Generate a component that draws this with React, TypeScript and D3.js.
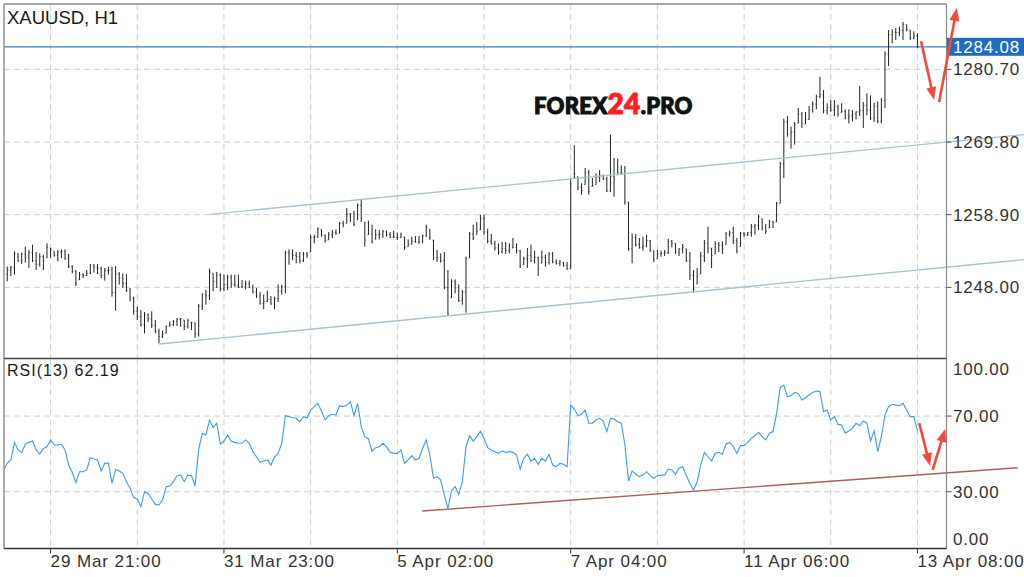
import React from 'react';
import * as d3 from 'd3';

const highs = [
  1251.1,1251.2,1253.4,1253.1,1253.2,1254.1,1253.6,1254.4,1253.3,1253.1,
  1252.9,1254.6,1253.9,1253.4,1253.6,1253.7,1253.7,1253.0,1251.3,1250.6,
  1250.3,1250.1,1250.6,1251.5,1251.5,1251.5,1251.1,1250.9,1251.1,1251.1,
  1251.2,1250.3,1250.1,1250.0,1247.9,1246.6,1245.1,1244.6,1244.3,1244.1,
  1244.4,1243.1,1241.8,1241.5,1242.3,1242.9,1243.1,1243.4,1243.4,1243.1,
  1243.3,1242.8,1242.7,1245.5,1247.1,1247.6,1250.8,1250.1,1250.3,1250.1,
  1249.9,1249.9,1249.9,1249.9,1249.9,1249.1,1249.0,1249.0,1248.4,1247.9,
  1247.3,1246.9,1247.5,1246.7,1246.6,1248.4,1248.4,1253.5,1253.7,1253.7,
  1253.3,1253.3,1253.3,1253.3,1255.9,1255.9,1257.0,1256.7,1255.9,1256.3,
  1256.6,1256.7,1257.8,1258.0,1259.9,1259.1,1259.5,1260.6,1261.1,1257.8,
  1258.0,1257.4,1256.7,1256.6,1256.6,1256.5,1256.3,1256.5,1256.2,1256.2,
  1255.6,1255.2,1255.6,1255.7,1255.7,1255.9,1257.4,1256.7,1255.1,1253.6,
  1253.1,1253.3,1250.6,1249.2,1249.2,1248.4,1247.6,1252.6,1256.3,1257.4,
  1257.8,1258.9,1258.9,1256.8,1256.0,1255.0,1254.6,1254.8,1254.8,1254.6,
  1255.4,1254.6,1253.6,1252.6,1253.9,1254.4,1253.5,1252.6,1253.5,1252.9,
  1253.3,1253.3,1252.2,1252.1,1251.8,1251.8,1264.4,1269.3,1264.6,1263.6,
  1265.9,1265.6,1264.4,1265.1,1265.6,1264.9,1264.6,1270.9,1267.4,1267.3,
  1266.3,1266.2,1260.8,1256.1,1256.0,1255.4,1255.6,1255.9,1255.1,1253.5,
  1253.6,1253.5,1253.6,1255.3,1255.1,1254.6,1253.9,1254.5,1253.8,1253.3,
  1250.6,1250.9,1253.3,1255.1,1257.1,1253.9,1254.9,1254.8,1254.9,1256.3,
  1256.5,1257.1,1255.4,1256.3,1256.3,1256.3,1257.5,1257.5,1258.9,1258.3,
  1257.5,1258.1,1257.9,1260.8,1266.8,1273.3,1273.7,1272.1,1272.8,1274.9,
  1274.3,1274.3,1275.2,1275.9,1276.9,1279.6,1277.6,1275.6,1276.1,1276.1,
  1275.4,1275.6,1274.7,1274.7,1274.6,1274.4,1278.2,1275.8,1277.1,1276.8,
  1275.7,1275.9,1276.4,1283.4,1286.6,1286.7,1286.9,1287.1,1287.8,1287.4,
  1286.6,1286.4,1286.1,
];

const lows = [
  1248.9,1249.7,1249.9,1251.8,1251.5,1251.7,1250.9,1251.8,1250.6,1251.1,
  1250.6,1252.4,1252.4,1252.6,1251.9,1252.4,1252.1,1250.9,1250.1,1248.2,
  1249.1,1249.4,1249.7,1250.0,1250.2,1250.0,1249.4,1249.0,1249.9,1246.6,
  1244.5,1248.4,1247.9,1247.3,1245.9,1243.9,1243.1,1242.1,1241.1,1242.8,
  1241.9,1241.1,1239.6,1240.4,1241.1,1242.1,1242.2,1242.2,1242.1,1241.6,
  1241.8,1241.6,1240.4,1240.6,1244.6,1245.4,1246.1,1247.4,1247.9,1247.4,
  1247.4,1247.6,1247.9,1248.1,1247.9,1247.9,1247.7,1247.9,1247.1,1246.4,
  1245.4,1244.7,1245.8,1245.4,1244.7,1245.8,1246.9,1247.1,1251.4,1252.1,
  1251.6,1251.6,1251.8,1252.4,1253.3,1254.6,1255.4,1255.6,1254.7,1255.1,
  1255.4,1255.9,1256.1,1257.0,1257.6,1257.8,1257.2,1258.1,1257.8,1254.1,
  1255.9,1254.6,1255.2,1255.2,1255.4,1255.6,1255.4,1255.4,1255.1,1255.4,
  1253.6,1254.1,1254.4,1254.7,1254.5,1254.6,1255.6,1255.1,1252.1,1251.8,
  1251.7,1247.7,1243.7,1246.4,1247.1,1245.8,1245.4,1244.2,1252.4,1255.1,
  1255.9,1256.6,1255.9,1254.6,1254.4,1253.5,1252.9,1253.1,1253.0,1253.1,
  1253.9,1253.1,1250.9,1251.4,1250.9,1251.8,1251.6,1249.7,1251.6,1251.1,
  1251.4,1251.6,1251.4,1251.2,1251.1,1250.6,1250.8,1264.4,1262.6,1261.9,
  1263.4,1261.9,1263.1,1263.4,1263.8,1264.1,1262.3,1262.3,1261.6,1264.9,
  1264.9,1260.4,1253.5,1251.6,1254.1,1253.8,1253.5,1254.0,1253.3,1251.8,
  1252.3,1252.6,1252.7,1253.0,1254.0,1253.0,1252.7,1253.1,1251.8,1249.1,
  1247.2,1248.5,1250.0,1251.8,1253.1,1250.9,1253.0,1253.3,1253.0,1254.4,
  1255.6,1254.5,1253.1,1254.1,1255.6,1255.7,1255.6,1255.9,1256.6,1256.5,
  1256.0,1256.9,1256.9,1257.8,1260.6,1264.4,1270.6,1268.8,1269.4,1272.6,
  1271.9,1272.5,1273.1,1274.2,1274.7,1276.4,1274.1,1273.9,1274.3,1273.7,
  1273.6,1274.2,1273.2,1272.6,1272.9,1273.2,1273.7,1271.9,1273.8,1273.1,
  1272.8,1272.6,1272.6,1274.9,1281.2,1284.6,1285.1,1285.7,1285.1,1286.4,
  1285.1,1285.2,1283.9,
];

const closes = [
  1250.5,1251.0,1253.0,1252.0,1253.0,1252.5,1253.2,1252.0,1251.4,1252.6,
  1252.0,1254.0,1253.6,1252.8,1253.3,1253.4,1252.4,1251.1,1250.4,1248.6,
  1249.9,1249.8,1250.1,1251.3,1251.0,1250.8,1249.8,1250.5,1250.6,1247.2,
  1250.0,1249.4,1248.6,1247.6,1246.3,1244.4,1243.6,1242.4,1243.9,1243.3,
  1242.3,1241.4,1240.6,1241.0,1242.1,1242.4,1242.9,1243.2,1243.3,1242.1,
  1243.0,1242.7,1241.0,1245.2,1246.9,1246.7,1250.3,1248.9,1249.8,1247.8,
  1248.4,1249.5,1248.5,1248.3,1248.0,1248.1,1248.5,1248.0,1247.3,1246.7,
  1245.6,1245.9,1246.2,1245.5,1246.3,1247.4,1248.1,1253.2,1253.0,1252.8,
  1252.6,1252.0,1253.0,1252.8,1255.5,1255.6,1256.8,1255.8,1255.0,1255.9,
  1256.2,1256.1,1257.6,1257.5,1259.0,1259.1,1257.4,1260.3,1258.3,1255.1,
  1256.0,1254.8,1255.9,1256.0,1256.4,1255.9,1255.6,1255.5,1255.5,1256.0,
  1254.0,1254.5,1254.9,1254.8,1254.9,1255.7,1257.0,1255.5,1252.4,1252.5,
  1252.0,1248.0,1244.0,1248.9,1248.5,1246.0,1247.3,1252.3,1256.0,1255.4,
  1256.4,1258.3,1256.3,1254.9,1254.6,1253.9,1253.3,1253.8,1253.5,1253.7,
  1254.0,1253.5,1251.2,1252.3,1252.8,1252.0,1252.5,1250.8,1252.5,1251.7,
  1253.0,1251.8,1251.6,1251.8,1251.3,1250.8,1263.5,1265.0,1263.0,1262.5,
  1265.2,1262.4,1263.3,1264.5,1264.8,1264.3,1262.5,1264.6,1264.3,1265.2,
  1265.1,1260.8,1253.8,1255.5,1254.4,1254.0,1254.2,1255.0,1253.6,1252.2,
  1253.0,1253.1,1253.2,1254.9,1254.6,1253.3,1253.7,1254.0,1252.0,1249.8,
  1247.7,1249.6,1252.7,1254.6,1253.9,1252.8,1254.5,1254.3,1253.8,1256.0,
  1256.2,1255.0,1253.5,1256.0,1255.9,1256.2,1257.1,1257.3,1258.6,1256.9,
  1256.4,1257.9,1257.7,1260.6,1266.5,1272.8,1271.0,1271.3,1272.4,1274.0,
  1272.5,1273.2,1274.6,1275.5,1276.6,1276.9,1274.5,1275.0,1274.6,1275.1,
  1274.0,1274.4,1273.4,1273.7,1274.0,1274.3,1274.5,1275.3,1274.6,1273.4,
  1275.2,1272.9,1276.0,1283.0,1285.9,1286.3,1286.2,1286.6,1287.4,1286.7,
  1285.4,1285.7,1284.08,
];
const firstOpen = 1250.0;

const rsiStart = -1;
const rsiValues = [
  41.5,
  45.0,46.8,56.1,52.1,50.8,55.1,56.1,56.8,52.1,49.9,
  52.9,53.8,57.4,54.7,54.7,55.1,52.1,44.1,40.2,34.8,
  40.6,40.6,41.5,48.0,47.3,46.8,41.0,45.0,45.2,34.4,
  41.8,41.0,39.7,35.3,31.8,26.9,26.2,22.1,30.0,29.1,
  26.2,23.3,23.0,25.6,32.7,33.0,35.3,38.5,38.8,35.3,
  38.8,38.5,33.0,52.4,60.9,60.0,67.9,63.9,66.2,55.1,
  56.8,60.0,56.8,56.1,55.6,55.6,57.4,55.6,51.2,48.5,
  45.5,46.2,46.8,44.1,48.5,50.3,55.6,70.2,69.7,69.1,
  68.8,67.0,69.7,69.1,73.2,75.0,76.7,72.7,67.9,70.2,
  70.9,70.6,75.5,75.0,75.8,77.6,70.2,76.7,64.4,59.1,
  57.9,51.2,53.3,53.8,55.6,53.8,50.8,50.3,50.3,52.1,
  45.0,46.8,49.1,46.8,47.7,52.9,57.4,49.4,37.1,38.0,
  36.2,28.3,21.2,30.4,32.7,28.6,35.3,53.8,59.6,56.8,
  59.1,62.1,58.2,53.3,52.1,51.2,50.3,51.6,50.8,51.2,
  50.8,49.4,42.0,47.7,49.8,46.2,47.7,44.5,47.7,46.2,
  49.8,44.1,43.3,45.0,44.5,43.3,75.8,73.7,70.2,70.9,
  73.2,66.2,66.2,67.9,68.8,67.4,61.8,68.8,68.4,67.0,
  66.2,54.7,35.7,41.0,39.2,38.0,38.8,40.6,38.5,37.1,
  38.5,38.8,38.8,42.0,41.5,39.2,42.4,43.3,38.5,34.4,
  30.9,35.3,44.1,50.8,48.5,46.2,50.3,50.8,49.8,55.1,
  56.1,53.8,50.3,54.4,54.4,56.1,58.2,59.6,61.4,59.1,
  57.4,60.9,61.8,71.4,85.0,86.4,80.2,80.8,82.5,82.0,
  78.5,79.7,81.1,82.5,83.2,82.9,72.3,73.2,67.9,69.7,
  65.6,65.3,60.9,62.1,63.5,66.2,64.9,67.4,66.2,56.8,
  62.1,51.2,59.1,70.6,75.0,76.2,75.8,75.5,76.7,73.2,
  69.7,69.7,62.19,
];

const priceTicks = [1248.0, 1258.9, 1269.8, 1280.7];
const rsiTicks = [100, 70, 30, 0];
const rsiGrid = [70, 30];
const timeTickIndex = [12, 60, 108, 156, 204, 252];
const timeTickLabels = ['29 Mar 21:00', '31 Mar 23:00', '5 Apr 02:00', '7 Apr 04:00', '11 Apr 06:00', '13 Apr 08:00'];
const gridIndex = [12, 36, 60, 84, 108, 132, 156, 180, 204, 228, 252];
const lastPrice = 1284.08;
const rsiLast = 62.19;
const symbolTitle = 'XAUUSD, H1';
const rsiTitle = 'RSI(13)';

const channelUpper = [[56.1, 1258.95], [281.5, 1270.92]];
const channelLower = [[42.0, 1239.5], [281.5, 1252.15]];
const rsiTrend = [[114.9, 19.8], [279.7, 42.7]];
const priceArrows = [
  [[253.0, 1284.9], [256.6, 1276.1]],
  [[258.0, 1275.8], [262.9, 1289.9]],
];
const rsiArrows = [
  [[252.5, 66.2], [255.5, 43.6]],
  [[256.2, 41.5], [259.7, 63.2]],
];

const W = 1024, H = 577;
const L = 4, R = 946.5;
const mainTop = 4, mainBottom = 358.5;
const rsiTop = 359.3, rsiBottom = 548.5;
const FONT = "'Liberation Sans', Arial, Helvetica, sans-serif";

const x = d3.scaleLinear().domain([-0.9, 259.9]).range([4, 946]);
const yP = d3.scaleLinear().domain([1237.4, 1290.5]).range([358, 4]);
const yR = d3.scaleLinear().domain([0, 100]).range([548.5, 359.3]);

function Arrow({ p1, p2, color }: { p1: number[]; p2: number[]; color: string }) {
  const dx = p2[0] - p1[0], dy = p2[1] - p1[1];
  const len = Math.hypot(dx, dy);
  const ux = dx / len, uy = dy / len;
  const hl = 13, hw = 5;
  const bx = p2[0] - ux * hl, by = p2[1] - uy * hl;
  const nx = -uy, ny = ux;
  return (
    <g>
      <line x1={p1[0]} y1={p1[1]} x2={bx + ux * 2} y2={by + uy * 2} stroke={color} strokeWidth={2.6} />
      <polygon points={`${p2[0]},${p2[1]} ${bx + nx * hw},${by + ny * hw} ${bx - nx * hw},${by - ny * hw}`} fill={color} />
    </g>
  );
}

export default function App() {
  const rsiLine = d3.line<number>()
    .x((_, i) => x(i + rsiStart))
    .y((v) => yR(v));
  const red = '#f4483b';
  const gridColor = '#cfcfcf';
  return (
    <svg width={W} height={H} style={{ position: 'absolute', left: 0, top: 0, background: '#fff' }} fontFamily={FONT}>
      <defs>
        <clipPath id="mainClip"><rect x={L} y={mainTop} width={R - L} height={mainBottom - mainTop} /></clipPath>
        <clipPath id="rsiClip"><rect x={L} y={rsiTop} width={R - L} height={rsiBottom - rsiTop} /></clipPath>
      </defs>
      <rect x={0} y={0} width={W} height={H} fill="#fff" />

      {/* grid */}
      {gridIndex.map((g) => (
        <g key={'g' + g}>
          <line x1={x(g)} x2={x(g)} y1={mainTop} y2={mainBottom} stroke={gridColor} strokeDasharray="6,4" />
          <line x1={x(g)} x2={x(g)} y1={rsiTop} y2={rsiBottom} stroke={gridColor} strokeDasharray="6,4" />
        </g>
      ))}
      {priceTicks.map((t) => (
        <line key={'hp' + t} x1={L} x2={R} y1={yP(t)} y2={yP(t)} stroke={gridColor} strokeDasharray="6,4" />
      ))}
      {rsiGrid.map((t) => (
        <line key={'hr' + t} x1={L} x2={R} y1={yR(t)} y2={yR(t)} stroke={gridColor} strokeDasharray="6,4" />
      ))}

      {/* title */}
      <text x={7} y={24} fontSize={18.5} fill="#1a1a1a">{symbolTitle}</text>

      {/* logo */}
      <text x={534} y={114} fontFamily="Lato, 'DejaVu Sans', sans-serif" fontWeight={900} fontSize={22}
        fill="#111" stroke="#111" strokeWidth={1.1} letterSpacing={0.3}>
        FOREX<tspan fill="#ff1f1f" stroke="#ff1f1f" fontSize={28}>24</tspan>.PRO
      </text>

      {/* last price line */}
      <line x1={L} x2={R} y1={yP(lastPrice)} y2={yP(lastPrice)} stroke="#3b7cc2" strokeWidth={1.3} />

      {/* OHLC bars */}
      <g clipPath="url(#mainClip)" stroke="#222" strokeWidth={1}>
        {highs.map((h, i) => {
          const cx = x(i);
          const open = i === 0 ? firstOpen : closes[i - 1];
          const o = Math.min(Math.max(open, lows[i]), h);
          return (
            <g key={'b' + i}>
              <line x1={cx} x2={cx} y1={yP(h)} y2={yP(lows[i])} />
              <line x1={cx - 1.1} x2={cx} y1={yP(o)} y2={yP(o)} strokeOpacity={0.6} />
              <line x1={cx} x2={cx + 1.1} y1={yP(closes[i])} y2={yP(closes[i])} strokeOpacity={0.6} />
            </g>
          );
        })}
      </g>

      {/* channel lines */}
      {[channelUpper, channelLower].map((c, k) => (
        <line key={'ch' + k} x1={x(c[0][0])} y1={yP(c[0][1])} x2={x(c[1][0])} y2={yP(c[1][1])} stroke="#a8c3d3" strokeWidth={1.3} />
      ))}

      {/* RSI */}
      <path d={rsiLine(rsiValues) || ''} fill="none" stroke="#3d9cec" strokeWidth={1.1} clipPath="url(#rsiClip)" />
      <line x1={x(rsiTrend[0][0])} y1={yR(rsiTrend[0][1])} x2={x(rsiTrend[1][0])} y2={yR(rsiTrend[1][1])} stroke="#a8605c" strokeWidth={1.4} />
      <text x={7} y={376} fontSize={16} letterSpacing={1} fill="#1a1a1a">{rsiTitle} {rsiLast.toFixed(2)}</text>

      {/* borders */}
      <line x1={L} x2={R} y1={mainTop} y2={mainTop} stroke="#8a8a8a" strokeWidth={1.4} />
      <line x1={L} x2={L} y1={mainTop} y2={rsiBottom} stroke="#8a8a8a" strokeWidth={1.4} />
      <line x1={R} x2={R} y1={mainTop} y2={rsiBottom} stroke="#8a8a8a" strokeWidth={1.2} />
      <line x1={L} x2={R} y1={mainBottom} y2={mainBottom} stroke="#444" strokeWidth={1.3} />
      <line x1={L} x2={R} y1={rsiBottom} y2={rsiBottom} stroke="#333" strokeWidth={1.3} />

      {/* right axis price */}
      {priceTicks.map((t) => (
        <g key={'pt' + t}>
          <line x1={R} x2={R + 5} y1={yP(t)} y2={yP(t)} stroke="#555" />
          <text x={953} y={yP(t) + 6} fontSize={17} letterSpacing={0.8} fill="#333">{t.toFixed(2)}</text>
        </g>
      ))}
      <rect x={947} y={yP(lastPrice) - 9} width={77} height={18} fill="#1f6dc2" />
      <text x={953} y={yP(lastPrice) + 6} fontSize={17} letterSpacing={0.8} fill="#fff">{lastPrice.toFixed(2)}</text>

      {/* right axis rsi */}
      {rsiTicks.map((t) => {
        const off = t === 100 ? 10 : t === 0 ? -10 : 0;
        return (
          <g key={'rt' + t}>
            {t !== 100 && t !== 0 && <line x1={R} x2={R + 5} y1={yR(t)} y2={yR(t)} stroke="#555" />}
            <text x={953} y={yR(t) + off + 6} fontSize={17} letterSpacing={0.8} fill="#333">{t.toFixed(2)}</text>
          </g>
        );
      })}

      {/* bottom axis */}
      {timeTickIndex.map((t, k) => (
        <g key={'tt' + t}>
          <line x1={x(t)} x2={x(t)} y1={rsiBottom} y2={rsiBottom + 5} stroke="#333" />
          <text x={x(t)} y={567} fontSize={17} letterSpacing={0.9} fill="#333">{timeTickLabels[k]}</text>
        </g>
      ))}

      {/* arrows */}
      {priceArrows.map((a, k) => (
        <Arrow key={'pa' + k} p1={[x(a[0][0]), yP(a[0][1])]} p2={[x(a[1][0]), yP(a[1][1])]} color={red} />
      ))}
      {rsiArrows.map((a, k) => (
        <Arrow key={'ra' + k} p1={[x(a[0][0]), yR(a[0][1])]} p2={[x(a[1][0]), yR(a[1][1])]} color={red} />
      ))}
    </svg>
  );
}
